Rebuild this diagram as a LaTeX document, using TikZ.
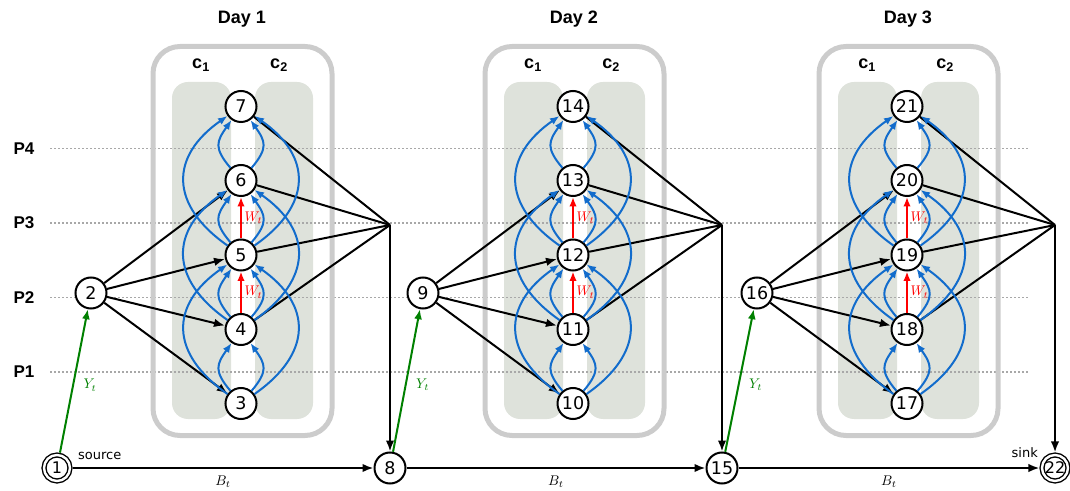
\documentclass[tikz,border=0pt]{standalone}
\usepackage{graphicx}
\usepackage{fontspec}
\setsansfont{DejaVu Sans}
\newfontfamily\labelfont{Liberation Sans}
\usetikzlibrary{arrows.meta}

\definecolor{arcblue}{RGB}{18,108,204}
\definecolor{flowgreen}{RGB}{0,128,0}
\definecolor{framegray}{RGB}{204,204,204}
\definecolor{lanegray}{RGB}{222,226,219}
\definecolor{periodgray}{RGB}{168,168,168}

% math edge labels, enlarged uniformly
\newcommand{\edgelabel}[1]{\scalebox{1.4}{$#1$}}

\tikzset{
  vtx/.style={circle, draw=black, line width=2pt, fill=white,
    minimum size=31pt, inner sep=0pt,
    font=\sffamily\fontsize{17.5}{17.5}\selectfont},
  term/.style={circle, draw=black, double=white, double distance=2.4pt,
    line width=1.4pt, fill=white, minimum size=26pt, inner sep=0pt,
    outer sep=2.6pt, font=\sffamily\fontsize{16}{16}\selectfont},
  flow/.style={line width=2pt, -{Latex[length=11pt,width=8.5pt]}},
  feed/.style={line width=2pt},
  hop/.style={arcblue, line width=2pt, -{Latex[length=9.5pt,width=7.5pt]}},
  idle/.style={red, line width=2pt, -{Latex[length=9.5pt,width=7.5pt]}},
  buy/.style={flowgreen, line width=2pt, -{Latex[length=10pt,width=8pt]}},
  mathlbl/.style={inner sep=1.5pt},
  dayhead/.style={font=\labelfont\bfseries\fontsize{18}{18}\selectfont},
  periodlbl/.style={font=\labelfont\bfseries\fontsize{17}{17}\selectfont},
  period/.style={periodgray, line width=1.6pt, dash pattern=on 1.6pt off 2.4pt},
  lane/.style={fill=lanegray, rounded corners=16pt},
  dayframe/.style={draw=framegray, line width=5pt, rounded corners=27pt},
  tag/.style={font=\sffamily\fontsize{13}{13}\selectfont, inner sep=0pt},
}

\begin{document}
\begin{tikzpicture}[x=1pt,y=1pt]
\useasboundingbox (0,0) rectangle (1070,490);

% shaded crew lanes
\foreach \X in {241,573,907}{
  \fill[lane] (\X-69,71) rectangle (\X-10,408);
  \fill[lane] (\X+14,71) rectangle (\X+72,408);
}

% period grid
\foreach \y/\p in {341.5/4,267/3,192.5/2,118/1}{
  \draw[period] (50,\y) -- (1028,\y);
  \node[periodlbl] (p\p) at (24,\y) {P\p};
}

% day frames and headings
\foreach \X/\dn in {241/1,573/2,907/3}{
  \draw[dayframe] (\X-88,54.5) rectangle (\X+91,443.5);
  \node[dayhead] (day\dn) at (\X+1,471) {Day \dn};
  \node[dayhead] (cl\dn) at (\X-40,425) {c\textsubscript{1}};
  \node[dayhead] (cr\dn) at (\X+38,425) {c\textsubscript{2}};
}

% source, sink and the daily hubs
\node[term] (n1) at (57,22) {1};
\node[vtx] (n8) at (390,22) {8};
\node[vtx] (n15) at (722,22) {15};
\node[term] (n22) at (1055,22) {22};
\node[tag, anchor=base west] (src) at (78,31) {source};
\node[tag, anchor=base east] (snk) at (1038,33) {sink};

% vertices of each day
\foreach \X/\lf/\va/\vb/\vc/\vd/\ve/\nx in
  {241/2/3/4/5/6/7/8, 573/9/10/11/12/13/14/15, 907/16/17/18/19/20/21/22}{
  \node[vtx] (n\lf) at (\X-150,197) {\lf};
  \node[vtx] (n\va) at (\X,86.5) {\va};
  \node[vtx] (n\vb) at (\X,160.5) {\vb};
  \node[vtx] (n\vc) at (\X,235) {\vc};
  \node[vtx] (n\vd) at (\X,309.5) {\vd};
  \node[vtx] (n\ve) at (\X,383.5) {\ve};
  \coordinate (m\lf) at (n\nx |- 0,265);
}

% edges of each day
\foreach \lf/\va/\vb/\vc/\vd/\ve/\nx in
  {2/3/4/5/6/7/8, 9/10/11/12/13/14/15, 16/17/18/19/20/21/22}{
  \foreach \q in {\va,\vb,\vc,\vd} \draw[flow] (n\lf) -- (n\q);
  \foreach \q in {\vb,\vc,\vd,\ve} \draw[feed] (n\q) -- (m\lf);
  \draw[flow] (m\lf) -- (n\nx);
  % one-period moves on both sides
  \foreach \p/\q in {\va/\vb,\vb/\vc,\vc/\vd,\vd/\ve}{
    \draw[hop] (n\p) to[out=130,in=235,looseness=1.4] (n\q);
    \draw[hop] (n\p) to[out=50,in=305,looseness=1.4] (n\q);
  }
  % two-period moves on both sides
  \foreach \p/\q in {\va/\vc,\vb/\vd,\vc/\ve}{
    \draw[hop] (n\p) to[out=145,in=215,looseness=1.4] (n\q);
    \draw[hop] (n\p) to[out=35,in=325,looseness=1.4] (n\q);
  }
  \draw[idle] (n\vb) -- node[right=1pt, mathlbl, red] {\edgelabel{W_t}} (n\vc);
  \draw[idle] (n\vc) -- node[right=1pt, mathlbl, red] {\edgelabel{W_t}} (n\vd);
}

% purchases and carry-over between days
\draw[buy] (n1) -- node[pos=0.47, right=8pt, mathlbl, flowgreen] {\edgelabel{Y_t}} (n2);
\draw[buy] (n8) -- node[pos=0.47, right=8pt, mathlbl, flowgreen] {\edgelabel{Y_t}} (n9);
\draw[buy] (n15) -- node[pos=0.47, right=8pt, mathlbl, flowgreen] {\edgelabel{Y_t}} (n16);
\draw[flow] (n1) -- node[below=5pt, mathlbl] {\edgelabel{B_t}} (n8);
\draw[flow] (n8) -- node[below=5pt, mathlbl] {\edgelabel{B_t}} (n15);
\draw[flow] (n15) -- node[below=5pt, mathlbl] {\edgelabel{B_t}} (n22);
\end{tikzpicture}
\end{document}
